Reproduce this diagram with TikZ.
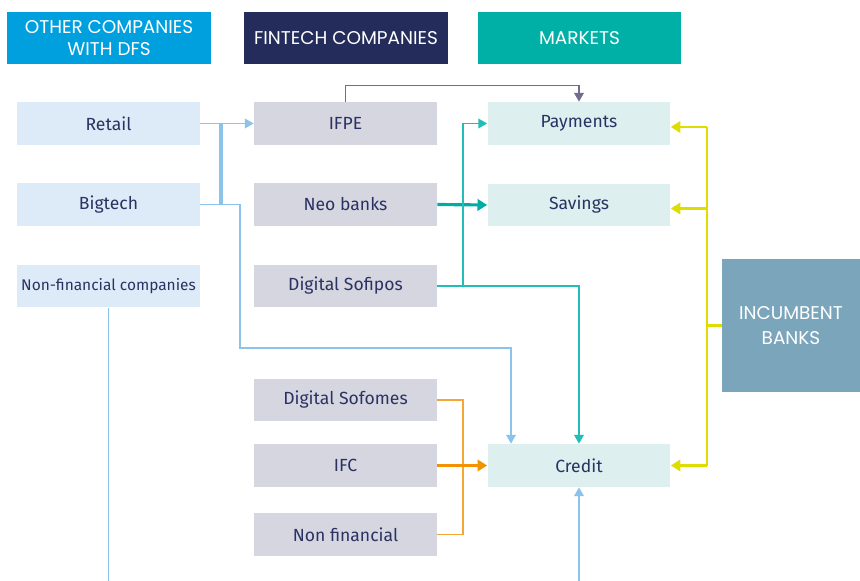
\documentclass[tikz,border=0pt]{standalone}
\usepackage{fontspec}
\setmainfont{Fira Sans}
\newfontfamily\hdrfont{Poppins}
\usepackage{tikz}
\usetikzlibrary{arrows.meta}
\usetikzlibrary{positioning}

\definecolor{hdrblue}{HTML}{00A0DF}
\definecolor{hdrnavy}{HTML}{232C5B}
\definecolor{hdrteal}{HTML}{00B0A6}
\definecolor{otherfill}{HTML}{DDEBF9}
\definecolor{fintechfill}{HTML}{D6D6E1}
\definecolor{marketfill}{HTML}{DDEFEF}
\definecolor{bankfill}{HTML}{7BA5BB}
\definecolor{textnavy}{HTML}{2A3262}
\definecolor{linkblue}{HTML}{8BC3EB}
\definecolor{linkpurple}{HTML}{716C93}
\definecolor{linkteal}{HTML}{00ADA2}
\definecolor{linkaqua}{HTML}{23BDB8}
\definecolor{linkyellow}{HTML}{DEDC00}
\definecolor{linkorange}{HTML}{F5A733}
\definecolor{linkamber}{HTML}{F39200}

\tikzset{
    header/.style={
        rectangle, minimum width=4.08cm, minimum height=1.04cm,
        text=white, align=center, inner sep=0pt,
        font=\hdrfont\fontsize{10.5}{12.5}\selectfont,
    },
    item/.style={
        rectangle, minimum width=3.66cm, minimum height=0.86cm,
        text=textnavy, inner sep=0pt,
        font=\fontsize{10}{12}\selectfont,
    },
    other/.style={item, fill=otherfill},
    fintech/.style={item, fill=fintechfill},
    market/.style={item, fill=marketfill},
    link/.style={line width=0.8pt, -{Triangle[width=5.5pt,length=5pt]}},
    plain/.style={line width=0.8pt},
}

\begin{document}
\begin{tikzpicture}[x=0.02cm, y=-0.02cm]
    \useasboundingbox (0,0) rectangle (860,581);

    % column headers
    \node (hother) at(109,38) [header, fill=hdrblue] {OTHER COMPANIES\\WITH DFS};
    \node (hfintech) at(346,38) [header, fill=hdrnavy] {FINTECH COMPANIES};
    \node (hmarkets) at(579.5,38) [header, fill=hdrteal] {MARKETS};

    % other companies
    \node (retail) at(108.5,123.5) [other] {Retail};
    \node (bigtech) at(108.5,204.5) [other] {Bigtech};
    \node (nonfincomp) at(108.5,286) [other, font=\fontsize{8.8}{10}\selectfont] {Non-financial companies};

    % fintech companies
    \node (ifpe) at(345.5,123.5) [fintech] {IFPE};
    \node (neobanks) at(345.5,204.5) [fintech] {Neo banks};
    \node (sofipos) at(345.5,286) [fintech] {Digital Sofipos};
    \node (sofomes) at(345.5,400) [fintech] {Digital Sofomes};
    \node (ifc) at(345.5,465.5) [fintech] {IFC};
    \node (nonfin) at(345.5,534.5) [fintech] {Non financial};

    % markets
    \node (payments) at(579,123.5) [market] {Payments};
    \node (savings) at(579,205) [market] {Savings};
    \node (credit) at(579,465.5) [market] {Credit};

    \node (banks) at(791,325.5) [
        rectangle, minimum width=2.76cm, minimum height=2.66cm,
        fill=bankfill, text=white, align=center, inner sep=0pt,
        font=\hdrfont\fontsize{10.5}{14}\selectfont,
    ] {INCUMBENT\\BANKS};

    \coordinate (bluebus) at(221,0);
    \coordinate (bluedrop) at(240,348);
    \coordinate (tealbus) at(463,0);
    \coordinate (orangebus) at(463,0);
    \coordinate (yellowbus) at(707,0);
    \coordinate (bottom) at(0,581);

    % other companies links
    \draw[link, linkblue] (retail.east) -- (ifpe.west);
    \draw[linkblue, line width=1.8pt] (retail.east -| bluebus) -- (bigtech.east -| bluebus);
    \draw[link, linkblue] (bigtech.east) -| (bluedrop) -| ([xshift=-1.36cm]credit.north);
    \draw[plain, linkblue] (nonfincomp.south) -- (nonfincomp.south |- bottom);
    \draw[link, linkblue] (credit.south |- bottom) -- (credit.south);

    % fintech links
    \draw[link, linkpurple] (ifpe.north) -- ++(0,-16) -| (payments.north);
    \draw[linkteal, line width=1.8pt, -{Triangle[width=6.5pt,length=5.5pt]}] (neobanks.east) -- (savings.west);
    \draw[link, linkaqua] (sofipos.east) -| (credit.north);
    \draw[link, linkaqua] (sofipos.east -| tealbus) |- (payments.west);
    \draw[plain, linkorange] (sofomes.east) -| (nonfin.east -| orangebus) -- (nonfin.east);
    \draw[linkamber, line width=1.6pt, -{Triangle[width=6.5pt,length=5.5pt]}] (ifc.east) -- (credit.west);

    % incumbent banks links
    \draw[linkyellow, line width=1.4pt] (banks.west) -- (banks.west -| yellowbus);
    \draw[linkyellow, line width=1.4pt] ([yshift=-0.07cm]payments.east -| yellowbus) -- (credit.east -| yellowbus);
    \draw[linkyellow, line width=1.4pt, -{Triangle[width=6.5pt,length=5.5pt]}] ([yshift=-0.07cm]payments.east -| yellowbus) -- ([yshift=-0.07cm]payments.east);
    \draw[linkyellow, line width=1.4pt, -{Triangle[width=6.5pt,length=5.5pt]}] ([yshift=-0.07cm]savings.east -| yellowbus) -- ([yshift=-0.07cm]savings.east);
    \draw[linkyellow, line width=1.4pt, -{Triangle[width=6.5pt,length=5.5pt]}] (credit.east -| yellowbus) -- (credit.east);
\end{tikzpicture}
\end{document}
